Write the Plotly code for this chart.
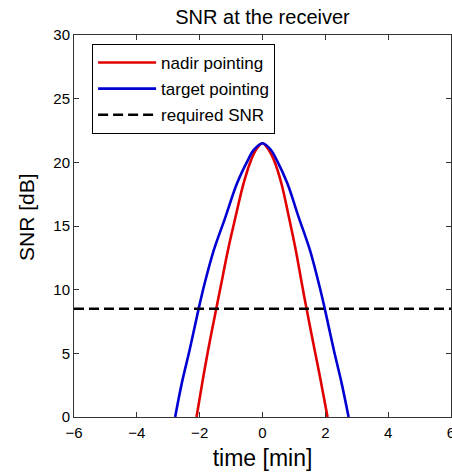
import plotly.graph_objects as go

# nadir pointing (red)
nadir_t = [-2.10, -1.92, -1.73, -1.47, -1.31, -1.10, -0.86, -0.60, -0.36, -0.21, 0.0,
           0.20, 0.36, 0.60, 0.84, 1.06, 1.25, 1.40, 1.66, 1.87, 2.07]
nadir_snr = [0.0, 2.64, 5.26, 8.53, 10.5, 13.1, 15.7, 18.36, 20.2, 20.97, 21.5,
             20.97, 20.2, 18.36, 15.7, 13.1, 10.5, 8.53, 5.26, 2.64, 0.0]

# target pointing (blue)
target_t = [-2.78, -2.57, -2.32, -2.03, -1.84, -1.55, -1.18, -0.81, -0.46, -0.28, 0.0,
            0.27, 0.45, 0.79, 1.15, 1.51, 1.79, 1.98, 2.27, 2.52, 2.74]
target_snr = [0.0, 2.64, 5.26, 8.53, 10.5, 13.1, 15.7, 18.36, 20.2, 20.97, 21.5,
              20.97, 20.2, 18.36, 15.7, 13.1, 10.5, 8.53, 5.26, 2.64, 0.0]

required_snr = 8.5
time_range = [-6, 6]
snr_range = [0, 30]
x_ticks = [-6, -4, -2, 0, 2, 4, 6]
y_ticks = [0, 5, 10, 15, 20, 25, 30]

FONT = "Liberation Sans, Arial, sans-serif"

fig = go.Figure()
fig.add_trace(go.Scatter(x=nadir_t, y=nadir_snr, mode="lines", name="nadir pointing", legendgroup="a",
                         line=dict(color="rgb(225,0,0)", width=2.6, shape="spline", smoothing=1.0)))
fig.add_trace(go.Scatter(x=target_t, y=target_snr, mode="lines", name="target pointing", legendgroup="b",
                         line=dict(color="rgb(0,0,210)", width=2.6, shape="spline", smoothing=1.0)))
fig.add_trace(go.Scatter(x=time_range, y=[required_snr, required_snr], mode="lines", name="required SNR",
                         legendgroup="c",
                         line=dict(color="black", width=2.6, dash="10px,5px")))

fig.update_layout(
    width=452, height=473,
    margin=dict(l=74, r=1, t=35, b=56),
    paper_bgcolor="white", plot_bgcolor="white",
    font=dict(family=FONT, color="black", size=14),
    title=dict(text="SNR at the receiver", x=(74 + 451) / 2 / 452, xanchor="center",
               y=1 - 17 / 473, yanchor="middle", font=dict(size=20)),
    showlegend=True,
    legend=dict(x=0.048, y=(417 - 44) / 382, xanchor="left", yanchor="top",
                bgcolor="white", bordercolor="black", borderwidth=1,
                font=dict(size=17), itemwidth=58, tracegroupgap=1,
                traceorder="grouped"),
)
fig.update_xaxes(range=time_range, tickvals=x_ticks, ticks="inside", ticklen=5, tickcolor="#333",
                 showline=True, linecolor="#333", linewidth=1, mirror="ticks",
                 showgrid=False, zeroline=False, tickfont=dict(size=15), automargin=False,
                 ticklabeloverflow="allow", ticklabelstandoff=2,
                 title=dict(text="time [min]", font=dict(size=23), standoff=9))
fig.update_yaxes(range=snr_range, tickvals=y_ticks, ticks="inside", ticklen=5, tickcolor="#333",
                 showline=True, linecolor="#333", linewidth=1, mirror="ticks",
                 showgrid=False, zeroline=False, tickfont=dict(size=15), automargin=False,
                 title=dict(text="&nbsp;&nbsp;&nbsp;SNR [dB]", font=dict(size=21), standoff=12))

fig.write_html("out.html")
